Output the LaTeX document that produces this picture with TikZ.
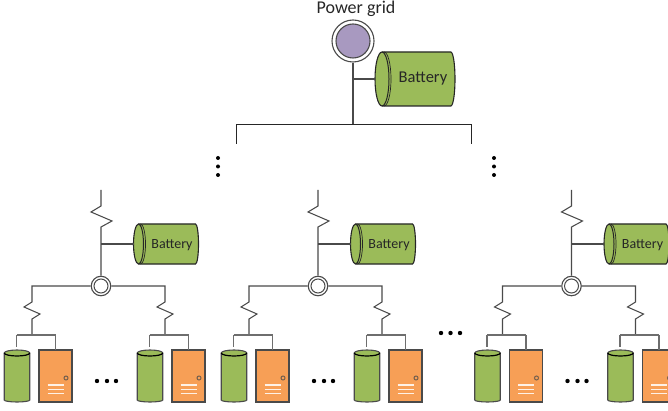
\documentclass[tikz,border=0pt]{standalone}
\usepackage{fontspec}
\setmainfont{Carlito}
\usetikzlibrary{calc}
\definecolor{wire}{HTML}{4A4A4A}
\definecolor{batgreen}{HTML}{9BBB59}
\definecolor{srv}{HTML}{F79F56}
\definecolor{grid}{HTML}{A899C0}
\tikzset{
  wireline/.style={draw=wire,line width=1.05pt},
  busline/.style={draw=black!85,line width=0.9pt},
  junction/.style={circle,draw=wire,fill=white,line width=1.1pt,minimum size=19.5pt,inner sep=0pt},
  junctionin/.style={circle,draw=wire,line width=1pt,minimum size=14pt,inner sep=0pt},
  batbody/.style={rectangle,inner sep=0pt,outer sep=0pt},
  label small/.style={font=\fontsize{14}{16}\selectfont,inner sep=0pt,text=black!85},
  label big/.style={font=\fontsize{16.5}{18}\selectfont,inner sep=0pt,text=black!85},
  label grid/.style={font=\fontsize{18}{20}\selectfont,inner sep=0pt,text=black!85},
  vdot/.style={circle,fill=black,inner sep=0pt,minimum size=4pt},
  hdot/.style={circle,fill=black,inner sep=0pt,minimum size=4.4pt},
  srvbox/.style={rectangle,draw=wire,fill=srv,line width=1.1pt,minimum width=33pt,minimum height=52pt,inner sep=0pt,outer sep=0pt},
  canbody/.style={rectangle,inner sep=0pt,outer sep=0pt,minimum width=25.5pt,minimum height=52pt},
}
% horizontal battery: #1 name, #2 x, #3 y, #4 half width, #5 half height, #6 end-cap radius
\newcommand{\batshape}[6]{%
  \node[batbody,minimum width=#4*2pt,minimum height=#5*2pt] (#1) at (#2,#3) {};
  \filldraw[draw=black!85,fill=batgreen,line width=1.1pt]
    ($(#1.north west)+(#6,0)$) -- ($(#1.north east)+(-#6*0.6,0)$)
    arc[start angle=90,end angle=-90,x radius=#6*0.6 pt,y radius=#5 pt]
    -- ($(#1.south west)+(#6,0)$)
    arc[start angle=-90,end angle=-270,x radius=#6 pt,y radius=#5 pt] -- cycle;
  \draw[draw=black!85,line width=1pt]
    ($(#1.north west)+(#6,0)$) arc[start angle=90,end angle=-90,x radius=#6 pt,y radius=#5 pt];
  \draw[draw=black!85,line width=0.7pt]
    ($(#1.north west)+(#6+2,0)$) arc[start angle=90,end angle=-90,x radius=#6 pt,y radius=#5 pt];
}
% vertical can: #1 name, #2 x, #3 y
\newcommand{\canshape}[3]{%
  \node[canbody] (#1) at (#2,#3) {};
  \filldraw[draw=wire,fill=batgreen,line width=1.1pt]
    ($(#1.north west)+(0,3)$) -- ($(#1.south west)+(0,-2)$)
    arc[start angle=180,end angle=360,x radius=12.75pt,y radius=2pt]
    -- ($(#1.north east)+(0,3)$)
    arc[start angle=0,end angle=180,x radius=12.75pt,y radius=3pt] -- cycle;
  \draw[draw=black,line width=1.2pt]
    ($(#1.north west)+(0,3)$) arc[start angle=180,end angle=360,x radius=12.75pt,y radius=3pt];
}
% server: #1 name, #2 x, #3 y
\newcommand{\srvshape}[3]{%
  \node[srvbox] (#1) at (#2,#3) {};
  \draw[draw=wire!75!srv,line width=1pt] ($(#1.center)+(10.5,2)$) circle[radius=2pt];
  \foreach \dy in {9,13.3,17.6}
    \draw[white!85!srv,line width=1.3pt] ($(#1.center)+(-8,\dy)$) -- ($(#1.center)+(8,\dy)$);
}
\begin{document}
\begin{tikzpicture}[x=1pt,y=-1pt]
\useasboundingbox (0,0) rectangle (668,411);
\clip (0,0) rectangle (668,411);
% top level
\coordinate (busL) at (236,124);
\coordinate (busR) at (471,124);
\coordinate (busM) at (353,124);
\coordinate (dropL) at (236,144);
\coordinate (dropR) at (471,144);
\coordinate (tee) at (353,79);
\batshape{topbat}{415}{79}{40}{27}{7}
\node[circle,draw=wire,fill=white,line width=1.1pt,minimum size=42pt,inner sep=0pt] (gridO) at (353,41) {};
\node[circle,draw=wire,fill=grid,line width=1.1pt,minimum size=34pt,inner sep=0pt] (gridI) at (353,41) {};
\node[label grid] (gridlabel) at (356,8.5) {Power grid};
\node[label big] (toptext) at (423,79) {Battery};
\draw[wireline] (gridO.south) -- (busM);
\draw[wireline] (tee) -- (topbat.west);
\draw[busline] (dropL) -- (busL) -- (busR) -- (dropR);
% vertical ellipses
\foreach \x/\n in {218/l,494/r}
  \foreach \y/\m in {158/a,166.5/b,175/c}
    \node[vdot] (v\n\m) at (\x,\y) {};
% cells
\foreach \c/\n in {101/a,318/b,571.5/c}{
  \coordinate (\n top) at (\c,190);
  \coordinate (\n tee) at (\c,244);
  \node[junction] (\n j) at (\c,286) {};
  \node[junctionin] (\n ji) at (\c,286) {};
  \batshape{\n bat}{\c+65}{244}{32.5}{20}{5}
  \node[label small] (\n battext) at (\c+71,245) {Battery};
  \draw[wireline] (\n top) -- ++(0,16) -- ++(-10,6) -- ++(21,9) -- ++(-11,6) -- (\n j.north);
  \draw[wireline] (\n tee) -- (\n bat.west);
  \foreach \o/\s in {-69/l,64/r}{
    \coordinate (\n\s bend) at (\c+\o,286);
    \coordinate (\n\s split) at (\c+\o,335);
    \coordinate (\n\s hl) at (\c+\o-15.5,335);
    \coordinate (\n\s hr) at (\c+\o+23.5,335);
    \canshape{\n\s can}{\c+\o-15}{376}
    \srvshape{\n\s srv}{\c+\o+23.5}{376}
    \draw[wireline] (\n j) -- (\n\s bend) -- ++(0,16) -- ++(-8,5) -- ++(16,7) -- ++(-8,5) -- (\n\s split);
    \draw[wireline,draw=wire!80] (\n\s hl) -- (\n\s hr);
    \draw[wireline,draw=wire!80] (\n\s hl) -- ($(\n\s can.north)+(-0.5,-3)$);
    \draw[wireline,draw=wire!80] (\n\s hr) -- (\n\s srv.north);
  }
  \foreach \d/\m in {-4/a,6/b,15/c}
    \node[hdot] (\n dot\m) at (\c+\d,381) {};
}
\foreach \x/\m in {441/a,450.5/b,460/c}
  \node[hdot] (h\m) at (\x,333) {};
\end{tikzpicture}
\end{document}
